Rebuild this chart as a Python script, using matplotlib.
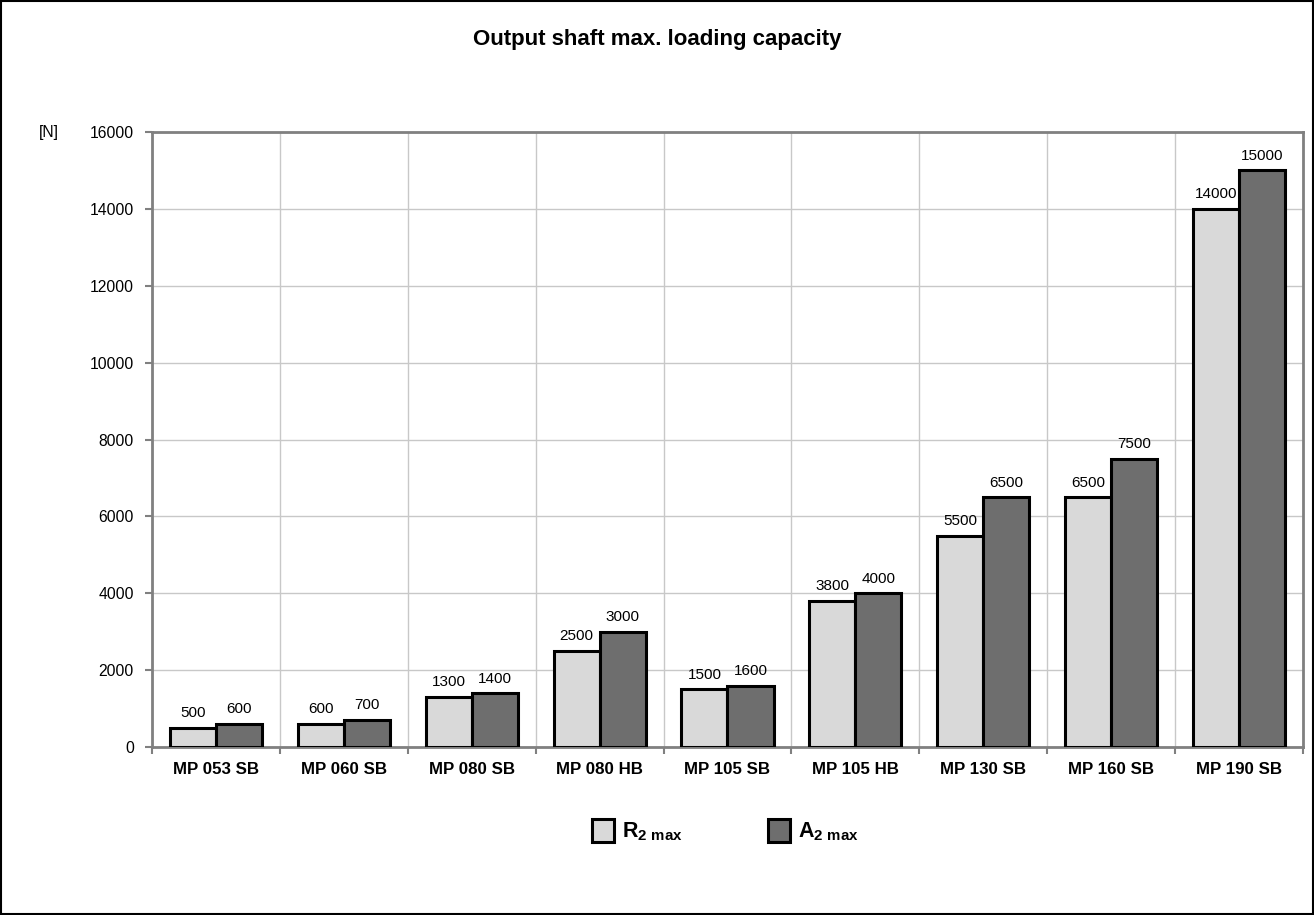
import numpy as np
import matplotlib.pyplot as plt
from matplotlib.patches import Rectangle

plt.rcParams['font.family'] = ['Liberation Sans', 'DejaVu Sans']
plt.rcParams['mathtext.fontset'] = 'custom'
plt.rcParams['mathtext.rm'] = 'Liberation Sans:bold'
plt.rcParams['mathtext.bf'] = 'Liberation Sans:bold'

# Data
models = ['MP 053 SB', 'MP 060 SB', 'MP 080 SB', 'MP 080 HB', 'MP 105 SB',
          'MP 105 HB', 'MP 130 SB', 'MP 160 SB', 'MP 190 SB']
r2_max = [500, 600, 1300, 2500, 1500, 3800, 5500, 6500, 14000]
a2_max = [600, 700, 1400, 3000, 1600, 4000, 6500, 7500, 15000]
y_ticks = [0, 2000, 4000, 6000, 8000, 10000, 12000, 14000, 16000]

fig = plt.figure(figsize=(13.14, 9.15), dpi=100)
ax = fig.add_axes([0.1157, 0.1836, 0.8759, 0.6721])

x = np.arange(len(models))
w = 0.36
b1 = ax.bar(x - w / 2, r2_max, w, color='#d9d9d9', edgecolor='black', linewidth=2.2,
            label=r'$\mathbf{R_{2\ max}}$', zorder=3)
b2 = ax.bar(x + w / 2, a2_max, w, color='#6e6e6e', edgecolor='black', linewidth=2.2,
            label=r'$\mathbf{A_{2\ max}}$', zorder=3)

for bars, vals in [(b1, r2_max), (b2, a2_max)]:
    for b, v in zip(bars, vals):
        ax.annotate(str(v), (b.get_x() + b.get_width() / 2, v), xytext=(0, 5.5),
                    textcoords='offset points', ha='center', va='bottom', fontsize=11)

ax.set_xlim(-0.5, len(models) - 0.5)
ax.set_ylim(0, 16000)
ax.set_yticks(y_ticks)
ax.tick_params(axis='y', labelsize=11.3, length=5, color='#808080', width=1.5, pad=8)

# category boundary ticks + vertical grid
ax.set_xticks(np.arange(len(models) + 1) - 0.5, minor=False)
ax.set_xticklabels([''] * (len(models) + 1))
ax.tick_params(axis='x', length=5, color='#808080', width=1.5)
ax.set_xticks(x, minor=True)
ax.set_xticklabels(models, minor=True, fontsize=12.2, fontweight='bold')
ax.tick_params(axis='x', which='minor', length=0, pad=11)
ax.grid(True, which='major', color='#c8c8c8', linewidth=1, zorder=0)

for s in ax.spines.values():
    s.set_color('#808080')
    s.set_linewidth(2)

ax.text(-0.09, 1.0, '[N]', transform=ax.transAxes, fontsize=11.3, ha='center', va='center')
fig.text(0.5, 0.957, 'Output shaft max. loading capacity', ha='center', va='center',
         fontsize=16, fontweight='bold')

fig.legend(loc='center', bbox_to_anchor=(0.552, 0.092), ncol=2, frameon=False,
           fontsize=15.5, handlelength=1.05, handleheight=1.3, columnspacing=3.95,
           handletextpad=0.35)

fig.patches.append(Rectangle((0.001, 0.001), 0.998, 0.998, transform=fig.transFigure,
                             fill=False, edgecolor='black', linewidth=1.5))

fig.savefig('out.png', dpi=100)
